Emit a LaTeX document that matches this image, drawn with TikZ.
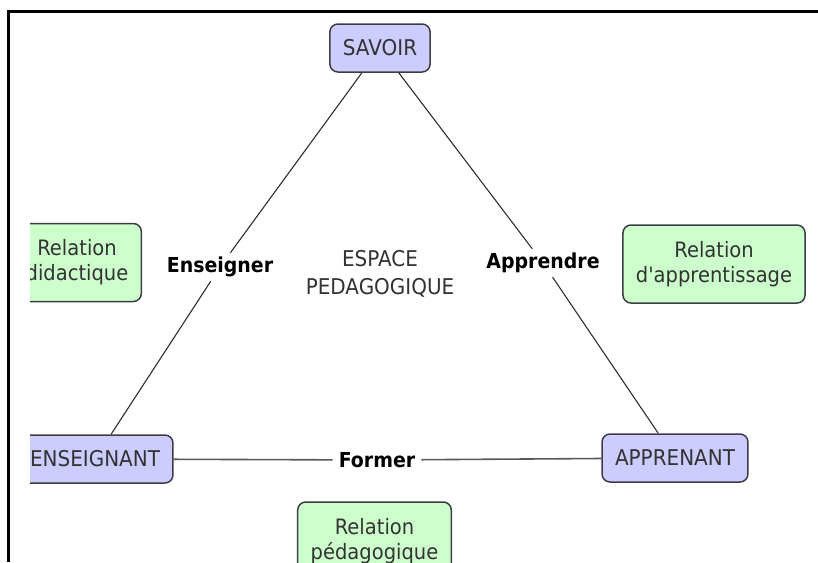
\documentclass[tikz,border=0pt]{standalone}
\usepackage{fontspec}
\setmainfont{DejaVu Sans}[FakeStretch=0.92, Ligatures=TeXOff]
\definecolor{conceptblue}{RGB}{204,204,255}
\definecolor{relgreen}{RGB}{204,255,204}
\definecolor{boxline}{RGB}{60,60,70}
\definecolor{textgray}{RGB}{50,50,50}
\definecolor{linkline}{RGB}{45,45,45}
\begin{document}
\begin{tikzpicture}[x=1pt,y=-1pt,
        concept/.style={draw=boxline, line width=1.5pt, fill=conceptblue, rounded corners=8pt,
            minimum height=48pt, inner xsep=13pt, text=textgray, font=\fontsize{21.7}{26}\selectfont},
        relation/.style={draw=boxline, line width=1.5pt, fill=relgreen, rounded corners=8pt,
            minimum height=78pt, inner xsep=13pt, align=center, text=textgray, font=\fontsize{21.2}{25}\selectfont},
        linkword/.style={inner xsep=6pt, inner ysep=4pt, font=\fontsize{20.6}{24}\selectfont\bfseries},
        link/.style={draw=linkline, line width=1.1pt}]
        \useasboundingbox (0,0) rectangle (818,562);
        \begin{scope}
            \clip (30,0) rectangle (818,562);
            \node[concept] (savoir) at (380,48) {SAVOIR};
            \node[concept] (enseignant) at (95,459) {ENSEIGNANT};
            \node[concept] (apprenant) at (675,458) {APPRENANT};

            \node[linkword] (enseigner) at (220,267) {Enseigner};
            \node[linkword] (apprendre) at (543,263) {Apprendre};
            \node[linkword] (former) at (377,460) {Former};
            \foreach \a/\b in {savoir/enseigner, enseigner/enseignant, savoir/apprendre, apprendre/apprenant} {
                \draw[link] (\a) -- (\b);
            }
            \foreach \a/\b in {enseignant/former, former/apprenant} {
                \draw[link, draw=black!65, line width=1.6pt] (\a) -- (\b);
            }

            \node[text=textgray, align=center, font=\fontsize{21.7}{28}\selectfont] (espace) at (380,274) {ESPACE\\PEDAGOGIQUE};

            \node[relation] (rel-didactique) at (77,262.5) {Relation\\didactique};
            \node[relation] (rel-apprentissage) at (714,264) {Relation\\d'apprentissage};
            \node[relation] (rel-pedagogique) at (374.5,541) {Relation\\pédagogique};
        \end{scope}
        \draw[line width=3pt] (818,11) -- (8,11) -- (8,562);
    \end{tikzpicture}
\end{document}
